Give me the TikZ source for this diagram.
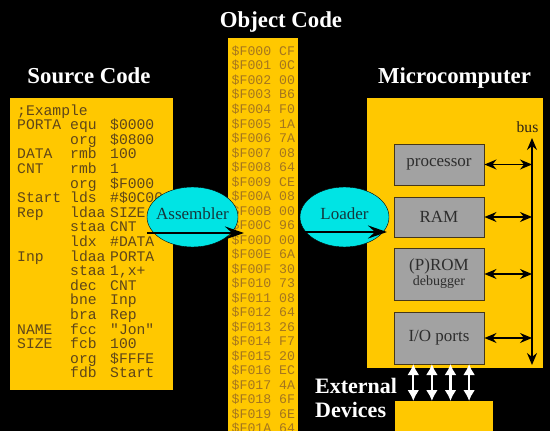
\documentclass[tikz,border=0pt]{standalone}
\usepackage{fontspec}
\setmainfont{Liberation Serif}
\setmonofont{Liberation Mono}
\usepackage{xcolor}
\usetikzlibrary{calc}
\usetikzlibrary{arrows.meta}
\usetikzlibrary{shapes.geometric}

\definecolor{jaune}{RGB}{255,200,0}
\definecolor{cyanvif}{RGB}{0,228,228}
\definecolor{gris}{RGB}{162,162,162}
\definecolor{brun}{RGB}{95,70,25}
\definecolor{ocre}{RGB}{165,118,30}

\begin{document}
\begin{tikzpicture}[x=1pt,y=-1pt]

\tikzset{
    fond/.style = {
    fill=jaune, inner sep=0pt, anchor=north west
    },
    titre/.style = {white, anchor=base, font=\fontsize{22.8}{24}\selectfont\bfseries},
    code/.style = {brun, inner sep=0pt, anchor=base west, font=\fontsize{14.7}{14.7}\selectfont\ttfamily},
    objet/.style = {ocre, inner sep=0pt, anchor=base west, font=\fontsize{13.2}{13.2}\selectfont\ttfamily},
    ovale/.style = {ellipse, draw=black, thin, fill=cyanvif, minimum height=60pt, inner sep=0pt},
    composant/.style = {draw={rgb,255:red,70;green,55;blue,25}, line width=1pt, fill=gris,
    minimum width=90pt, text={rgb,255:red,45;green,45;blue,45}, font=\fontsize{17}{15}\selectfont, align=center}
}

\tikzstyle{fleche}=[line width=2.6pt, -{Stealth[length=19pt, width=13pt, inset=7pt]}]
\tikzstyle{liaison}=[line width=1.4pt, {Stealth[length=12pt, width=10pt, inset=4pt]}-{Stealth[length=12pt, width=10pt, inset=4pt]}]
\tikzstyle{externe}=[white, line width=2.2pt, {Latex[length=11pt, width=12pt]}-{Latex[length=11pt, width=12pt]}]

\useasboundingbox (0,0) rectangle (550,431);
\clip (0,0) rectangle (550,431);
\fill[black] (0,0) rectangle (550,431);

% titres
\node (t-obj) [titre] at (281,27.5) {Object Code};
\node (t-src) [titre] at (89,83) {Source Code};
\node (t-mic) [titre] at (454.5,83) {Microcomputer};

% code source
\node (src) [fond, minimum width=163pt, minimum height=292pt] at (10,98) {};

\foreach \lab/\op/\arg [count=\i from 0] in {
    {;Example}/{}/{},
    PORTA/equ/\$0000,
    {}/org/\$0800,
    DATA/rmb/100,
    CNT/rmb/1,
    {}/org/\$F000,
    Start/lds/\#\$0C00,
    Rep/ldaa/SIZE,
    {}/staa/CNT,
    {}/ldx/\#DATA,
    Inp/ldaa/PORTA,
    {}/staa/{1,x+},
    {}/dec/CNT,
    {}/bne/Inp,
    {}/bra/Rep,
    NAME/fcc/"Jon",
    SIZE/fcb/100,
    {}/org/\$FFFE,
    {}/fdb/Start}{
    \node (src-\i-a) [code] at (17,115+14.6*\i) {\lab};
    \node (src-\i-b) [code] at (70,115+14.6*\i) {\op};
    \node (src-\i-c) [code] at (110,115+14.6*\i) {\arg};
}

% code objet
\node (obj) [fond, minimum width=70pt, minimum height=400pt] at (228,38) {};

\foreach \adr/\val [count=\i from 0] in {
    F000/CF, F001/0C, F002/00, F003/B6, F004/F0, F005/1A, F006/7A,
    F007/08, F008/64, F009/CE, F00A/08, F00B/00, F00C/96, F00D/00,
    F00E/6A, F00F/30, F010/73, F011/08, F012/64, F013/26, F014/F7,
    F015/20, F016/EC, F017/4A, F018/6F, F019/6E, F01A/64}{
    \node (obj-\i) [objet] at (231.5,55.5+14.5*\i) {\$\adr\ \val};
}

% micro-ordinateur
\node (mic) [fond, minimum width=176pt, minimum height=270pt] at (367,98) {};

\node (cpu) [composant, minimum height=41pt] at (439,164.5) {processor};
\node (ram) [composant, minimum height=40pt] at (439,217) {RAM};
\node (rom) [composant, minimum height=52pt] at (439,274) {(P)ROM\\{\fontsize{14}{15}\selectfont debugger}};
\node (io) [composant, minimum height=52pt] at (439,338) {I/O ports};

\coordinate (bus-haut) at (532,138);
\coordinate (bus-bas) at (532,365);
\draw[liaison] (bus-bas) -- (bus-haut);
\node (bus) [anchor=base, text={rgb,255:red,45;green,35;blue,20}, font=\fontsize{15.6}{16}\selectfont] at (527.5,132) {bus};

\foreach \c in {cpu,ram,rom,io}{
    \draw[liaison] (\c.east) -- (\c.east -| bus-haut);
}

% peripheriques externes
\node (ext) [fond, minimum width=98pt, minimum height=40pt] at (395,401) {};
\node (t-ext) [white, anchor=base west, align=left, inner sep=0pt, font=\fontsize{22}{24}\selectfont\bfseries] at (315,417) {External\\Devices};

\foreach \i in {0,1,2,3}{
    \draw[externe] (413.3+18.6*\i,364) coordinate (e-\i) -- (e-\i |- ext.north);
}

% assembleur et chargeur
\node (asm) [ovale, minimum width=91pt, label={[text={rgb,255:red,20;green,55;blue,60}, font=\fontsize{17}{18}\selectfont, yshift=3pt]center:Assembler}] at (192.5,217) {};
\node (ldr) [ovale, minimum width=89pt, label={[text={rgb,255:red,20;green,55;blue,60}, font=\fontsize{17}{18}\selectfont, yshift=3pt]center:Loader}] at (344.5,217) {};

\coordinate (asm-fin) at (244,233);
\coordinate (ldr-fin) at (387,232);
\draw[fleche] (asm.west |- asm-fin) -- (asm-fin);
\draw[fleche] (ldr.west |- ldr-fin) -- (ldr-fin);

\end{tikzpicture}
\end{document}
